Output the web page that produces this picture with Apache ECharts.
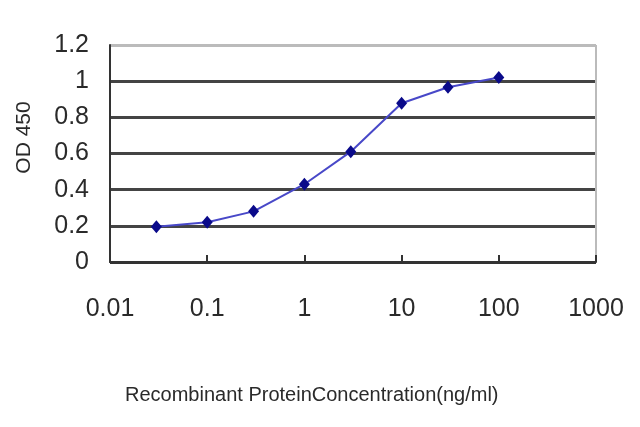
<!DOCTYPE html>
<html><head><meta charset="utf-8">
<script src="https://cdn.jsdelivr.net/npm/echarts@6/dist/echarts.min.js"></script>
<style>html,body{margin:0;padding:0;background:#fff}#c{width:640px;height:427px}</style>
</head><body><div id="c"></div>
<script>
var concentrations = [0.03, 0.1, 0.3, 1, 3, 10, 30, 100];
var odValues = [0.195, 0.22, 0.28, 0.43, 0.61, 0.878, 0.966, 1.02];
var xTickLabels = ['0.01', '0.1', '1', '10', '100', '1000'];
var yTickLabels = ['0', '0.2', '0.4', '0.6', '0.8', '1', '1.2'];
var xTitle = 'Recombinant ProteinConcentration(ng/ml)';
var yTitle = 'OD 450';

var font = '"Liberation Sans", Arial, sans-serif';
var chart = echarts.init(document.getElementById('c'), null, {renderer: 'canvas'});
chart.setOption({
  animation: false,
  backgroundColor: '#fff',
  title: {
    text: xTitle, left: 120, top: 380,
    textStyle: {fontFamily: font, fontSize: 20, fontWeight: 'normal', color: '#2a2a2a'}
  },
  grid: {left: 110, right: 44, top: 45, bottom: 165},
  xAxis: {
    type: 'log', logBase: 10, min: 0.01, max: 1000,
    axisLine: {show: true, lineStyle: {color: '#333', width: 2}},
    axisTick: {show: true, inside: true, length: 7, lineStyle: {color: '#333', width: 2}},
    axisLabel: {
      margin: 35, fontFamily: font, fontSize: 25, color: '#2a2a2a',
      formatter: function (v) {
        var i = Math.round(Math.log10(v)) + 2;
        return xTickLabels[i] !== undefined ? xTickLabels[i] : '';
      }
    },
    splitLine: {show: true, lineStyle: {color: ['transparent','transparent','transparent','transparent','transparent','#bbb'], width: 2}}
  },
  yAxis: {
    type: 'value', min: 0, max: 1.2, interval: 0.2,
    name: yTitle, nameLocation: 'middle', nameGap: 75,
    nameTextStyle: {fontFamily: font, fontSize: 21, color: '#2a2a2a', padding: [0, 0, 0, 32]},
    axisLine: {show: true, lineStyle: {color: '#333', width: 2}},
    axisTick: {show: false},
    axisLabel: {
      margin: 21, fontFamily: font, fontSize: 25, color: '#2a2a2a',
      formatter: function (v) { return yTickLabels[Math.round(v / 0.2)]; }
    },
    splitLine: {show: true, lineStyle: {color: ['#333','#444','#444','#444','#444','#444','#bbb'], width: 3}}
  },
  series: [{
    type: 'line',
    data: concentrations.map(function (c, i) { return [c, odValues[i]]; }),
    symbol: 'diamond', symbolSize: [11, 13],
    lineStyle: {color: '#4848c8', width: 2},
    itemStyle: {color: '#0a0a8a'}
  }]
});
</script></body></html>
